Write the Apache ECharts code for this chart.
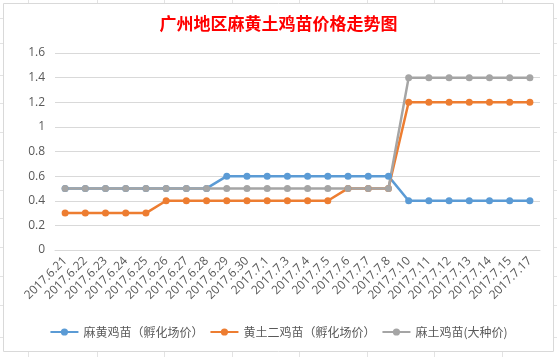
<!DOCTYPE html>
<html><head><meta charset="utf-8">
<script src="https://cdn.jsdelivr.net/npm/echarts@6/dist/echarts.min.js"></script>
<style>html,body{margin:0;padding:0;background:#fff}#c{width:557px;height:357px}</style>
</head><body><div id="c"></div>
<script>
var categories = ['2017.6.21','2017.6.22','2017.6.23','2017.6.24','2017.6.25','2017.6.26','2017.6.27','2017.6.28','2017.6.29','2017.6.30','2017.7.1','2017.7.3','2017.7.4','2017.7.5','2017.7.6','2017.7.7','2017.7.8','2017.7.10','2017.7.11','2017.7.12','2017.7.13','2017.7.14','2017.7.15','2017.7.17'];
var seriesNames = ['麻黄鸡苗（孵化场价）','黄土二鸡苗（孵化场价）','麻土鸡苗(大种价)'];
var mahuang = [0.5,0.5,0.5,0.5,0.5,0.5,0.5,0.5,0.6,0.6,0.6,0.6,0.6,0.6,0.6,0.6,0.6,0.4,0.4,0.4,0.4,0.4,0.4,0.4];
var huangtu = [0.3,0.3,0.3,0.3,0.3,0.4,0.4,0.4,0.4,0.4,0.4,0.4,0.4,0.4,0.5,0.5,0.5,1.2,1.2,1.2,1.2,1.2,1.2,1.2];
var matu = [0.5,0.5,0.5,0.5,0.5,0.5,0.5,0.5,0.5,0.5,0.5,0.5,0.5,0.5,0.5,0.5,0.5,1.4,1.4,1.4,1.4,1.4,1.4,1.4];
var yMin = 0, yMax = 1.6, yStep = 0.2;
var colors = ['#5B9BD5','#ED7D31','#A5A5A5'];

var chart = echarts.init(document.getElementById('c'));
var gl = '#e3e3e3';
var gfx = [{type:'rect',shape:{x:3.5,y:3.5,width:550,height:348},style:{fill:'none',stroke:'#d9d9d9',lineWidth:1},z:-1}];
[28,97,164,232,299,367,434,502].forEach(function(x){
  gfx.push({type:'line',shape:{x1:x+0.5,y1:0,x2:x+0.5,y2:3},style:{stroke:gl}});
  gfx.push({type:'line',shape:{x1:x+0.5,y1:352,x2:x+0.5,y2:357},style:{stroke:gl}});
});
[18,43,75,103,132,160,190,218,247,276,305,337].forEach(function(y){
  gfx.push({type:'line',shape:{x1:0,y1:y+0.5,x2:3,y2:y+0.5},style:{stroke:gl}});
  gfx.push({type:'line',shape:{x1:554,y1:y+0.5,x2:557,y2:y+0.5},style:{stroke:gl}});
});
function mk(i,data){
  return {name:seriesNames[i],type:'line',data:data,symbol:'circle',symbolSize:7,
    lineStyle:{width:2.5,color:colors[i]},itemStyle:{color:colors[i]},
    emphasis:{disabled:true},animation:false};
}
chart.setOption({
  animation:false,
  title:{text:'广州地区麻黄土鸡苗价格走势图',left:'center',top:10,
    textStyle:{color:'#FF0000',fontSize:17,fontWeight:'bold',fontFamily:'Noto Sans CJK SC'}},
  grid:{left:55,right:17,top:53,bottom:107,containLabel:false},
  legend:{bottom:14,left:'center',itemWidth:28,itemHeight:9,itemGap:6,
    textStyle:{color:'#595959',fontSize:12,fontFamily:'Noto Sans CJK SC'},
    data:seriesNames},
  xAxis:{type:'category',data:categories,boundaryGap:true,
    axisLine:{show:true,lineStyle:{color:'#d9d9d9'}},axisTick:{show:false},
    axisLabel:{rotate:45,interval:0,color:'#595959',fontSize:12,margin:9,fontFamily:'Open Sans'}},
  yAxis:{type:'value',min:yMin,max:yMax,interval:yStep,
    axisLine:{show:false},axisTick:{show:false},
    splitLine:{lineStyle:{color:'#d9d9d9'}},
    axisLabel:{color:'#595959',fontSize:12,margin:10,fontFamily:'Open Sans'}},
  graphic:gfx,
  series:[mk(0,mahuang),mk(1,huangtu),mk(2,matu)]
});
</script></body></html>
